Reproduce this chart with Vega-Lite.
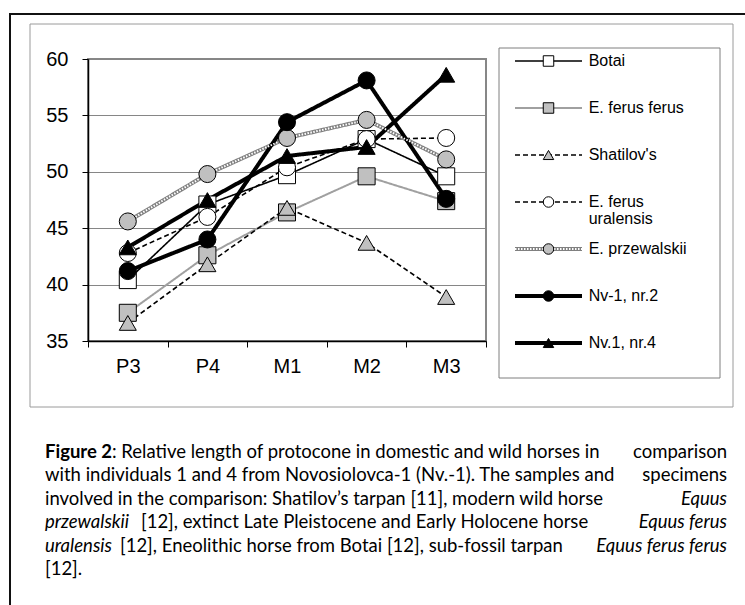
{
  "$schema": "https://vega.github.io/schema/vega-lite/v6.json",
  "width": 398,
  "height": 282,
  "autosize": {"type": "none"},
  "padding": {"left": 88, "top": 59, "right": 259, "bottom": 264},
  "background": "#ffffff",
  "config": {
    "view": {"stroke": "#878787", "strokeWidth": 2},
    "legend": {"disable": true},
    "axis": {"labelFont": "Liberation Sans", "labelFontSize": 20, "labelColor": "#000000", "domainColor": "#000000", "tickColor": "#000000", "title": null},
    "text": {"font": "Lato", "fontSize": 18.5, "color": "#000000", "baseline": "alphabetic"}
  },
  "datasets": {
    "teeth": [
      {"series": "Botai", "tooth": "P3", "value": 40.4},
      {"series": "Botai", "tooth": "P4", "value": 47.1},
      {"series": "Botai", "tooth": "M1", "value": 49.7},
      {"series": "Botai", "tooth": "M2", "value": 52.9},
      {"series": "Botai", "tooth": "M3", "value": 49.6},
      {"series": "E. ferus ferus", "tooth": "P3", "value": 37.5},
      {"series": "E. ferus ferus", "tooth": "P4", "value": 42.6},
      {"series": "E. ferus ferus", "tooth": "M1", "value": 46.4},
      {"series": "E. ferus ferus", "tooth": "M2", "value": 49.6},
      {"series": "E. ferus ferus", "tooth": "M3", "value": 47.4},
      {"series": "Shatilov's", "tooth": "P3", "value": 36.6},
      {"series": "Shatilov's", "tooth": "P4", "value": 41.8},
      {"series": "Shatilov's", "tooth": "M1", "value": 46.8},
      {"series": "Shatilov's", "tooth": "M2", "value": 43.7},
      {"series": "Shatilov's", "tooth": "M3", "value": 38.9},
      {"series": "E. ferus uralensis", "tooth": "P3", "value": 42.8},
      {"series": "E. ferus uralensis", "tooth": "P4", "value": 46.0},
      {"series": "E. ferus uralensis", "tooth": "M1", "value": 50.4},
      {"series": "E. ferus uralensis", "tooth": "M2", "value": 52.9},
      {"series": "E. ferus uralensis", "tooth": "M3", "value": 53.0},
      {"series": "E. przewalskii", "tooth": "P3", "value": 45.6},
      {"series": "E. przewalskii", "tooth": "P4", "value": 49.8},
      {"series": "E. przewalskii", "tooth": "M1", "value": 53.0},
      {"series": "E. przewalskii", "tooth": "M2", "value": 54.6},
      {"series": "E. przewalskii", "tooth": "M3", "value": 51.1},
      {"series": "Nv-1, nr.2", "tooth": "P3", "value": 41.2},
      {"series": "Nv-1, nr.2", "tooth": "P4", "value": 44.0},
      {"series": "Nv-1, nr.2", "tooth": "M1", "value": 54.4},
      {"series": "Nv-1, nr.2", "tooth": "M2", "value": 58.1},
      {"series": "Nv-1, nr.2", "tooth": "M3", "value": 47.6},
      {"series": "Nv.1, nr.4", "tooth": "P3", "value": 43.3},
      {"series": "Nv.1, nr.4", "tooth": "P4", "value": 47.5},
      {"series": "Nv.1, nr.4", "tooth": "M1", "value": 51.4},
      {"series": "Nv.1, nr.4", "tooth": "M2", "value": 52.2},
      {"series": "Nv.1, nr.4", "tooth": "M3", "value": 58.6}
    ],
    "legendRows": [
      {"series": "Botai", "label": "Botai"},
      {"series": "E. ferus ferus", "label": "E. ferus ferus"},
      {"series": "Shatilov's", "label": "Shatilov's"},
      {"series": "E. ferus uralensis", "label": "E. ferus\nuralensis"},
      {"series": "E. przewalskii", "label": "E. przewalskii"},
      {"series": "Nv-1, nr.2", "label": "Nv-1, nr.2"},
      {"series": "Nv.1, nr.4", "label": "Nv.1, nr.4"}
    ]
  },
  "resolve": {"scale": {"x": "independent", "y": "independent"}},
  "layer": [
    {
      "data": {"values": [{}]},
      "mark": {"type": "rect", "fill": "transparent", "stroke": "#111111", "strokeWidth": 2},
      "encoding": {
        "x": {"datum": 0, "type": "quantitative", "scale": {"domain": [0, 1], "range": [-78, 700], "nice": false, "zero": false}, "axis": null},
        "x2": {"datum": 1},
        "y": {"datum": 0, "type": "quantitative", "scale": {"domain": [0, 1], "range": [-45, 600], "nice": false, "zero": false}, "axis": null},
        "y2": {"datum": 1}
      }
    },
    {
      "data": {"values": [{}]},
      "mark": {"type": "rect", "fill": "transparent", "stroke": "#9a9a9a", "strokeWidth": 1},
      "encoding": {
        "x": {"datum": 0, "type": "quantitative", "scale": {"domain": [0, 1], "range": [-58, 645], "nice": false, "zero": false}, "axis": null},
        "x2": {"datum": 1},
        "y": {"datum": 0, "type": "quantitative", "scale": {"domain": [0, 1], "range": [-35, 348], "nice": false, "zero": false}, "axis": null},
        "y2": {"datum": 1}
      }
    },
    {
      "data": {"values": [{}]},
      "mark": {"type": "rect", "fill": "transparent", "stroke": "#7f7f7f", "strokeWidth": 1},
      "encoding": {
        "x": {"datum": 0, "type": "quantitative", "scale": {"domain": [0, 1], "range": [411, 632], "nice": false, "zero": false}, "axis": null},
        "x2": {"datum": 1},
        "y": {"datum": 0, "type": "quantitative", "scale": {"domain": [0, 1], "range": [-11, 319], "nice": false, "zero": false}, "axis": null},
        "y2": {"datum": 1}
      }
    },
    {
      "data": {"name": "teeth"},
      "layer": [
        {
          "mark": {"type": "line", "strokeJoin": "round"},
          "encoding": {
            "x": {"field": "tooth", "type": "ordinal", "sort": ["P3", "P4", "M1", "M2", "M3"], "bandPosition": 0.5, "scale": {"type": "band", "paddingInner": 0, "paddingOuter": 0}, "axis": {"tickBand": "extent", "tickSize": 6, "labelPadding": 9, "domainWidth": 1.5, "labelAngle": 0, "grid": false}},
            "y": {"field": "value", "type": "quantitative", "scale": {"domain": [35, 60], "nice": false, "zero": false}, "axis": {"values": [35, 40, 45, 50, 55, 60], "grid": true, "gridColor": "#868686", "gridWidth": 1, "tickSize": 6, "labelPadding": 14, "domainWidth": 1.5}},
            "stroke": {"field": "series", "type": "nominal", "scale": {"domain": ["Botai", "E. ferus ferus", "Shatilov's", "E. ferus uralensis", "E. przewalskii", "Nv-1, nr.2", "Nv.1, nr.4"], "range": ["#000000", "#a0a0a0", "#000000", "#000000", "#808080", "#000000", "#000000"]}},
            "strokeWidth": {"field": "series", "type": "nominal", "scale": {"type": "ordinal", "domain": ["Botai", "E. ferus ferus", "Shatilov's", "E. ferus uralensis", "E. przewalskii", "Nv-1, nr.2", "Nv.1, nr.4"], "range": [1.6, 2, 1.6, 1.6, 4, 4, 4]}},
            "strokeDash": {"field": "series", "type": "nominal", "scale": {"domain": ["Botai", "E. ferus ferus", "Shatilov's", "E. ferus uralensis", "E. przewalskii", "Nv-1, nr.2", "Nv.1, nr.4"], "range": [[1, 0], [1, 0], [5, 3], [5, 3], [1, 0], [1, 0], [1, 0]]}}
          }
        },
        {
          "transform": [{"filter": "datum.series == 'E. przewalskii'"}],
          "mark": {"type": "line", "stroke": "#ffffff", "strokeWidth": 2, "strokeDash": [1.5, 1.5]},
          "encoding": {
            "x": {"field": "tooth", "type": "ordinal", "sort": ["P3", "P4", "M1", "M2", "M3"], "bandPosition": 0.5, "scale": {"type": "band", "paddingInner": 0, "paddingOuter": 0}, "axis": {"tickBand": "extent", "tickSize": 6, "labelPadding": 9, "domainWidth": 1.5, "labelAngle": 0, "grid": false}},
            "y": {"field": "value", "type": "quantitative", "scale": {"domain": [35, 60], "nice": false, "zero": false}, "axis": {"values": [35, 40, 45, 50, 55, 60], "grid": true, "gridColor": "#868686", "gridWidth": 1, "tickSize": 6, "labelPadding": 14, "domainWidth": 1.5}}
          }
        },
        {
          "mark": {"type": "point", "filled": true, "stroke": "#000000", "strokeWidth": 1, "opacity": 1, "size": 290},
          "encoding": {
            "x": {"field": "tooth", "type": "ordinal", "sort": ["P3", "P4", "M1", "M2", "M3"], "bandPosition": 0.5, "scale": {"type": "band", "paddingInner": 0, "paddingOuter": 0}, "axis": {"tickBand": "extent", "tickSize": 6, "labelPadding": 9, "domainWidth": 1.5, "labelAngle": 0, "grid": false}},
            "y": {"field": "value", "type": "quantitative", "scale": {"domain": [35, 60], "nice": false, "zero": false}, "axis": {"values": [35, 40, 45, 50, 55, 60], "grid": true, "gridColor": "#868686", "gridWidth": 1, "tickSize": 6, "labelPadding": 14, "domainWidth": 1.5}},
            "shape": {"field": "series", "type": "nominal", "scale": {"domain": ["Botai", "E. ferus ferus", "Shatilov's", "E. ferus uralensis", "E. przewalskii", "Nv-1, nr.2", "Nv.1, nr.4"], "range": ["square", "square", "triangle-up", "circle", "circle", "circle", "triangle-up"]}},
            "fill": {"field": "series", "type": "nominal", "scale": {"domain": ["Botai", "E. ferus ferus", "Shatilov's", "E. ferus uralensis", "E. przewalskii", "Nv-1, nr.2", "Nv.1, nr.4"], "range": ["#ffffff", "#c0c0c0", "#c0c0c0", "#ffffff", "#c0c0c0", "#000000", "#000000"]}}
          }
        }
      ]
    },
    {
      "data": {"name": "legendRows"},
      "layer": [
        {
          "mark": {"type": "rule"},
          "encoding": {
            "x": {"datum": 0, "type": "quantitative", "scale": {"domain": [0, 1], "range": [427, 494], "nice": false, "zero": false}, "axis": null},
            "x2": {"datum": 1},
            "y": {"field": "series", "type": "nominal", "scale": {"type": "point", "domain": ["Botai", "E. ferus ferus", "Shatilov's", "E. ferus uralensis", "E. przewalskii", "Nv-1, nr.2", "Nv.1, nr.4"], "range": [2, 284], "padding": 0}, "axis": null},
            "stroke": {"field": "series", "type": "nominal", "scale": {"domain": ["Botai", "E. ferus ferus", "Shatilov's", "E. ferus uralensis", "E. przewalskii", "Nv-1, nr.2", "Nv.1, nr.4"], "range": ["#000000", "#a0a0a0", "#000000", "#000000", "#808080", "#000000", "#000000"]}},
            "strokeWidth": {"field": "series", "type": "nominal", "scale": {"type": "ordinal", "domain": ["Botai", "E. ferus ferus", "Shatilov's", "E. ferus uralensis", "E. przewalskii", "Nv-1, nr.2", "Nv.1, nr.4"], "range": [1.6, 2, 1.6, 1.6, 4, 4, 4]}},
            "strokeDash": {"field": "series", "type": "nominal", "scale": {"domain": ["Botai", "E. ferus ferus", "Shatilov's", "E. ferus uralensis", "E. przewalskii", "Nv-1, nr.2", "Nv.1, nr.4"], "range": [[1, 0], [1, 0], [5, 3], [5, 3], [1, 0], [1, 0], [1, 0]]}}
          }
        },
        {
          "transform": [{"filter": "datum.series == 'E. przewalskii'"}],
          "mark": {"type": "rule", "stroke": "#ffffff", "strokeWidth": 2, "strokeDash": [1.5, 1.5]},
          "encoding": {
            "x": {"datum": 0, "type": "quantitative", "scale": {"domain": [0, 1], "range": [427, 494], "nice": false, "zero": false}, "axis": null},
            "x2": {"datum": 1},
            "y": {"field": "series", "type": "nominal", "scale": {"type": "point", "domain": ["Botai", "E. ferus ferus", "Shatilov's", "E. ferus uralensis", "E. przewalskii", "Nv-1, nr.2", "Nv.1, nr.4"], "range": [2, 284], "padding": 0}, "axis": null}
          }
        },
        {
          "mark": {"type": "point", "filled": true, "stroke": "#000000", "strokeWidth": 1, "opacity": 1, "size": 110},
          "encoding": {
            "x": {"datum": 0.5, "type": "quantitative", "scale": {"domain": [0, 1], "range": [427, 494], "nice": false, "zero": false}, "axis": null},
            "y": {"field": "series", "type": "nominal", "scale": {"type": "point", "domain": ["Botai", "E. ferus ferus", "Shatilov's", "E. ferus uralensis", "E. przewalskii", "Nv-1, nr.2", "Nv.1, nr.4"], "range": [2, 284], "padding": 0}, "axis": null},
            "shape": {"field": "series", "type": "nominal", "scale": {"domain": ["Botai", "E. ferus ferus", "Shatilov's", "E. ferus uralensis", "E. przewalskii", "Nv-1, nr.2", "Nv.1, nr.4"], "range": ["square", "square", "triangle-up", "circle", "circle", "circle", "triangle-up"]}},
            "fill": {"field": "series", "type": "nominal", "scale": {"domain": ["Botai", "E. ferus ferus", "Shatilov's", "E. ferus uralensis", "E. przewalskii", "Nv-1, nr.2", "Nv.1, nr.4"], "range": ["#ffffff", "#c0c0c0", "#c0c0c0", "#ffffff", "#c0c0c0", "#000000", "#000000"]}}
          }
        },
        {
          "mark": {"type": "text", "align": "left", "baseline": "middle", "font": "Liberation Sans", "fontSize": 16, "lineBreak": "\n", "lineHeight": 17, "color": "#000000"},
          "encoding": {
            "x": {"datum": 1.1, "type": "quantitative", "scale": {"domain": [0, 1], "range": [427, 494], "nice": false, "zero": false}, "axis": null},
            "y": {"field": "series", "type": "nominal", "scale": {"type": "point", "domain": ["Botai", "E. ferus ferus", "Shatilov's", "E. ferus uralensis", "E. przewalskii", "Nv-1, nr.2", "Nv.1, nr.4"], "range": [2, 284], "padding": 0}, "axis": null},
            "text": {"field": "label", "type": "nominal"}
          }
        }
      ]
    },
    {
      "layer": [
        {
          "data": {"values": [
            {"line": 2, "text": "with individuals 1 and 4 from Novosiolovca-1 (Nv.-1). The samples and"},
            {"line": 3, "text": "involved in the comparison: Shatilov’s tarpan [11], modern wild horse"},
            {"line": 6, "text": "[12]."}
          ]},
          "mark": {"type": "text", "align": "left"},
          "encoding": {
            "x": {"datum": 0, "type": "quantitative", "scale": {"domain": [0, 1], "range": [-43, 639], "nice": false, "zero": false}, "axis": null},
            "y": {"field": "line", "type": "ordinal", "scale": {"type": "point", "domain": [1, 2, 3, 4, 5, 6], "range": [399, 516], "padding": 0}, "axis": null},
            "text": {"field": "text", "type": "nominal"}
          }
        },
        {
          "data": {"values": [
            {"line": 1, "text": "comparison"},
            {"line": 2, "text": "specimens"}
          ]},
          "mark": {"type": "text", "align": "right"},
          "encoding": {
            "x": {"datum": 1, "type": "quantitative", "scale": {"domain": [0, 1], "range": [-43, 639], "nice": false, "zero": false}, "axis": null},
            "y": {"field": "line", "type": "ordinal", "scale": {"type": "point", "domain": [1, 2, 3, 4, 5, 6], "range": [399, 516], "padding": 0}, "axis": null},
            "text": {"field": "text", "type": "nominal"}
          }
        },
        {
          "data": {"values": [
            {"line": 1, "text": "Figure 2"}
          ]},
          "mark": {"type": "text", "align": "left", "fontWeight": "bold"},
          "encoding": {
            "x": {"datum": 0, "type": "quantitative", "scale": {"domain": [0, 1], "range": [-43, 639], "nice": false, "zero": false}, "axis": null},
            "y": {"field": "line", "type": "ordinal", "scale": {"type": "point", "domain": [1, 2, 3, 4, 5, 6], "range": [399, 516], "padding": 0}, "axis": null},
            "text": {"field": "text", "type": "nominal"}
          }
        },
        {
          "data": {"values": [
            {"line": 1, "text": ": Relative length of protocone in domestic and wild horses in"}
          ]},
          "mark": {"type": "text", "align": "left", "dx": 67},
          "encoding": {
            "x": {"datum": 0, "type": "quantitative", "scale": {"domain": [0, 1], "range": [-43, 639], "nice": false, "zero": false}, "axis": null},
            "y": {"field": "line", "type": "ordinal", "scale": {"type": "point", "domain": [1, 2, 3, 4, 5, 6], "range": [399, 516], "padding": 0}, "axis": null},
            "text": {"field": "text", "type": "nominal"}
          }
        },
        {
          "data": {"values": [
            {"line": 3, "text": "Equus"},
            {"line": 4, "text": "Equus ferus"},
            {"line": 5, "text": "Equus ferus ferus"}
          ]},
          "mark": {"type": "text", "align": "right", "fontStyle": "italic"},
          "encoding": {
            "x": {"datum": 1, "type": "quantitative", "scale": {"domain": [0, 1], "range": [-43, 639], "nice": false, "zero": false}, "axis": null},
            "y": {"field": "line", "type": "ordinal", "scale": {"type": "point", "domain": [1, 2, 3, 4, 5, 6], "range": [399, 516], "padding": 0}, "axis": null},
            "text": {"field": "text", "type": "nominal"}
          }
        },
        {
          "data": {"values": [
            {"line": 4, "text": "przewalskii"},
            {"line": 5, "text": "uralensis"}
          ]},
          "mark": {"type": "text", "align": "left", "fontStyle": "italic"},
          "encoding": {
            "x": {"datum": 0, "type": "quantitative", "scale": {"domain": [0, 1], "range": [-43, 639], "nice": false, "zero": false}, "axis": null},
            "y": {"field": "line", "type": "ordinal", "scale": {"type": "point", "domain": [1, 2, 3, 4, 5, 6], "range": [399, 516], "padding": 0}, "axis": null},
            "text": {"field": "text", "type": "nominal"}
          }
        },
        {
          "data": {"values": [
            {"line": 4, "text": "[12], extinct Late Pleistocene and Early Holocene horse"}
          ]},
          "mark": {"type": "text", "align": "left", "dx": 96},
          "encoding": {
            "x": {"datum": 0, "type": "quantitative", "scale": {"domain": [0, 1], "range": [-43, 639], "nice": false, "zero": false}, "axis": null},
            "y": {"field": "line", "type": "ordinal", "scale": {"type": "point", "domain": [1, 2, 3, 4, 5, 6], "range": [399, 516], "padding": 0}, "axis": null},
            "text": {"field": "text", "type": "nominal"}
          }
        },
        {
          "data": {"values": [
            {"line": 5, "text": "[12], Eneolithic horse from Botai [12], sub-fossil tarpan"}
          ]},
          "mark": {"type": "text", "align": "left", "dx": 75},
          "encoding": {
            "x": {"datum": 0, "type": "quantitative", "scale": {"domain": [0, 1], "range": [-43, 639], "nice": false, "zero": false}, "axis": null},
            "y": {"field": "line", "type": "ordinal", "scale": {"type": "point", "domain": [1, 2, 3, 4, 5, 6], "range": [399, 516], "padding": 0}, "axis": null},
            "text": {"field": "text", "type": "nominal"}
          }
        }
      ]
    }
  ]
}
